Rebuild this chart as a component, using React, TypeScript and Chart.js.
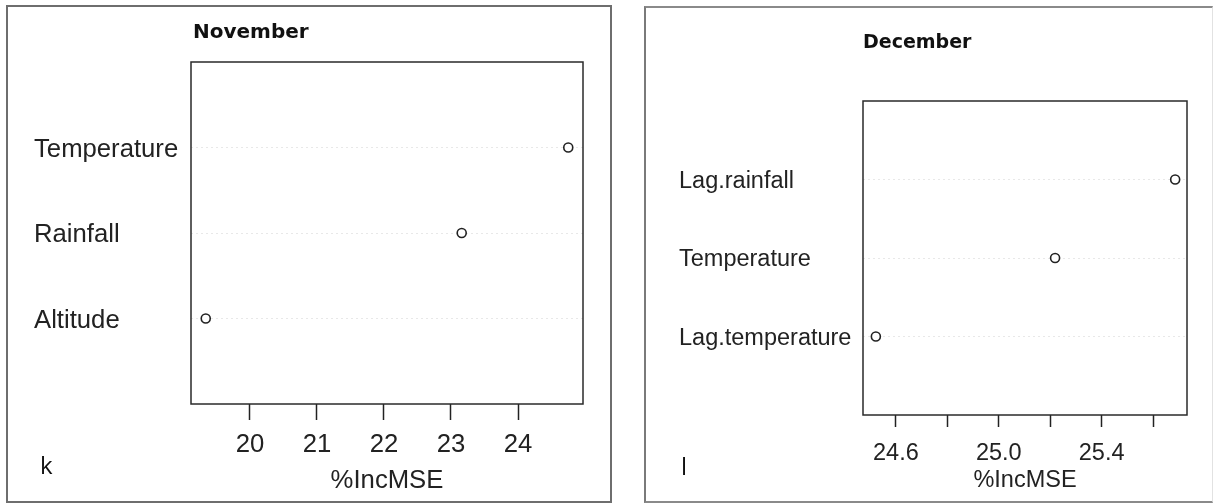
import React, { useEffect, useRef } from 'react';
import { Chart, registerables } from 'chart.js';

Chart.register(...registerables);

// ---------- data ----------
const novCategories = ['Temperature', 'Rainfall', 'Altitude'];
const novValues = [24.75, 23.16, 19.34];
const novTicks = [20, 21, 22, 23, 24];
const novTickLabels = ['20', '21', '22', '23', '24'];
const novRange = [19.12, 24.97];

const decCategories = ['Lag.rainfall', 'Temperature', 'Lag.temperature'];
const decValues = [25.686, 25.219, 24.522];
const decTicks = [24.6, 24.8, 25.0, 25.2, 25.4, 25.6];
const decTickLabels = ['24.6', '', '25.0', '', '25.4', ''];
const decRange = [24.472, 25.732];

const axisTitle = '%IncMSE';

// ---------- layout / style ----------
const LABEL_FAMILY = "'Liberation Sans', Arial, sans-serif";

interface PanelCfg {
  title: string;
  letter: string;
  categories: string[];
  values: number[];
  ticks: number[];
  tickLabels: string[];
  range: number[];
  canvasLeft: number;
  width: number;
  height: number;
  area: { left: number; top: number; right: number; bottom: number };
  labelLeft: number;
  fontSize: number;
  tickLength: number;
  tickPad: number;
  titlePad: number;
  titleFont: string;
  titleX: number;
  titleY: number;
  letterFont: string;
  letterX: number;
  letterY: number;
}

const novCfg: PanelCfg = {
  title: 'November',
  letter: 'k',
  categories: novCategories,
  values: novValues,
  ticks: novTicks,
  tickLabels: novTickLabels,
  range: novRange,
  canvasLeft: 0,
  width: 612,
  height: 504,
  area: { left: 191, top: 62, right: 583, bottom: 404 },
  labelLeft: 34,
  fontSize: 25.7,
  tickLength: 16,
  tickPad: 9,
  titlePad: 8,
  titleFont: "bold 20px 'DejaVu Sans', sans-serif",
  titleX: 193,
  titleY: 33,
  letterFont: "24px 'Open Sans', sans-serif",
  letterX: 40,
  letterY: 474,
};

const decCfg: PanelCfg = {
  title: 'December',
  letter: 'l',
  categories: decCategories,
  values: decValues,
  ticks: decTicks,
  tickLabels: decTickLabels,
  range: decRange,
  canvasLeft: 612,
  width: 604,
  height: 504,
  area: { left: 251, top: 101, right: 575, bottom: 415 },
  labelLeft: 67,
  fontSize: 23.5,
  tickLength: 12,
  tickPad: 12,
  titlePad: 9,
  titleFont: "bold 19px 'DejaVu Sans', sans-serif",
  titleX: 251,
  titleY: 43,
  letterFont: "24px 'Open Sans', sans-serif",
  letterX: 69,
  letterY: 475,
};

function makeFramePlugin(cfg: PanelCfg) {
  return {
    id: 'frame_' + cfg.letter,
    beforeDatasetsDraw(chart: any) {
      const { ctx, chartArea } = chart;
      ctx.save();
      ctx.strokeStyle = '#2a2a2a';
      ctx.lineWidth = 1.5;
      ctx.strokeRect(
        chartArea.left,
        chartArea.top,
        chartArea.right - chartArea.left,
        chartArea.bottom - chartArea.top
      );
      ctx.restore();
    },
    afterDraw(chart: any) {
      const { ctx } = chart;
      ctx.save();
      ctx.fillStyle = '#111';
      ctx.font = cfg.titleFont;
      ctx.textAlign = 'left';
      ctx.textBaseline = 'middle';
      ctx.fillText(cfg.title, cfg.titleX, cfg.titleY);
      ctx.font = cfg.letterFont;
      ctx.textBaseline = 'alphabetic';
      ctx.fillText(cfg.letter, cfg.letterX, cfg.letterY);
      ctx.restore();
    },
  };
}

function buildChart(canvas: HTMLCanvasElement, cfg: PanelCfg) {
  const n = cfg.categories.length;
  const points = cfg.values.map((v, i) => ({ x: v, y: n - i }));
  const font = { family: LABEL_FAMILY, size: cfg.fontSize };
  return new Chart(canvas, {
    type: 'scatter',
    data: {
      datasets: [
        {
          data: points,
          pointStyle: 'circle',
          pointRadius: 4.5,
          pointBorderWidth: 1.6,
          pointBackgroundColor: '#ffffff',
          pointBorderColor: '#222222',
          showLine: false,
        } as any,
      ],
    },
    options: {
      responsive: false,
      animation: false,
      devicePixelRatio: 1,
      layout: {
        padding: {
          left: cfg.labelLeft,
          top: cfg.area.top,
          right: cfg.width - cfg.area.right,
          bottom: 0,
        },
      },
      plugins: {
        legend: { display: false },
        tooltip: { enabled: false },
        title: { display: false },
      },
      scales: {
        x: {
          type: 'linear',
          position: 'bottom',
          min: cfg.range[0],
          max: cfg.range[1],
          afterBuildTicks: (s: any) => {
            s.ticks = cfg.ticks.map((v) => ({ value: v }));
          },
          afterFit: (s: any) => {
            s.height = cfg.height - cfg.area.bottom;
          },
          ticks: {
            autoSkip: false,
            maxRotation: 0,
            minRotation: 0,
            padding: cfg.tickPad,
            color: '#222',
            font,
            callback: (_v: any, i: number) => cfg.tickLabels[i],
          },
          grid: {
            drawOnChartArea: false,
            drawTicks: true,
            tickLength: cfg.tickLength,
            tickColor: '#222',
            tickWidth: 1.5,
          },
          border: { display: false },
          title: {
            display: true,
            text: axisTitle,
            color: '#222',
            font,
            padding: { top: 0, bottom: cfg.titlePad },
          },
        } as any,
        y: {
          type: 'linear',
          position: 'left',
          min: 0,
          max: n + 1,
          afterBuildTicks: (s: any) => {
            s.ticks = cfg.categories.map((_c, i) => ({ value: i + 1 }));
          },
          afterFit: (s: any) => {
            s.width = cfg.area.left - cfg.labelLeft;
          },
          ticks: {
            autoSkip: false,
            crossAlign: 'far',
            padding: 0,
            labelOffset: 2,
            color: '#222',
            font,
            callback: (v: any) => cfg.categories[n - Number(v)],
          },
          grid: {
            drawTicks: false,
            color: '#e8e8e8',
            lineWidth: 1,
          },
          border: { display: false, dash: [2, 3] },
        } as any,
      },
    },
    plugins: [makeFramePlugin(cfg)],
  });
}

function Panel({ cfg }: { cfg: PanelCfg }) {
  const ref = useRef<HTMLCanvasElement | null>(null);
  useEffect(() => {
    if (!ref.current) return;
    const chart = buildChart(ref.current, cfg);
    return () => chart.destroy();
  }, [cfg]);
  return (
    <canvas
      ref={ref}
      width={cfg.width}
      height={cfg.height}
      style={{
        position: 'absolute',
        left: cfg.canvasLeft,
        top: 0,
        width: cfg.width,
        height: cfg.height,
      }}
    />
  );
}

export default function App() {
  return (
    <div
      style={{
        position: 'absolute',
        left: 0,
        top: 0,
        width: 1216,
        height: 504,
        background: '#ffffff',
        overflow: 'hidden',
      }}
    >
      <div
        style={{
          position: 'absolute',
          left: 6,
          top: 5,
          width: 606,
          height: 498,
          boxSizing: 'border-box',
          border: '2px solid #6e6e6e',
        }}
      />
      <div
        style={{
          position: 'absolute',
          left: 644,
          top: 6,
          width: 569,
          height: 497,
          boxSizing: 'border-box',
          borderLeft: '2px solid #7a7a7a',
          borderTop: '2px solid #8a8a8a',
          borderBottom: '2px solid #8a8a8a',
          borderRight: '1px solid #e2e2e2',
        }}
      />
      <Panel cfg={novCfg} />
      <Panel cfg={decCfg} />
    </div>
  );
}
